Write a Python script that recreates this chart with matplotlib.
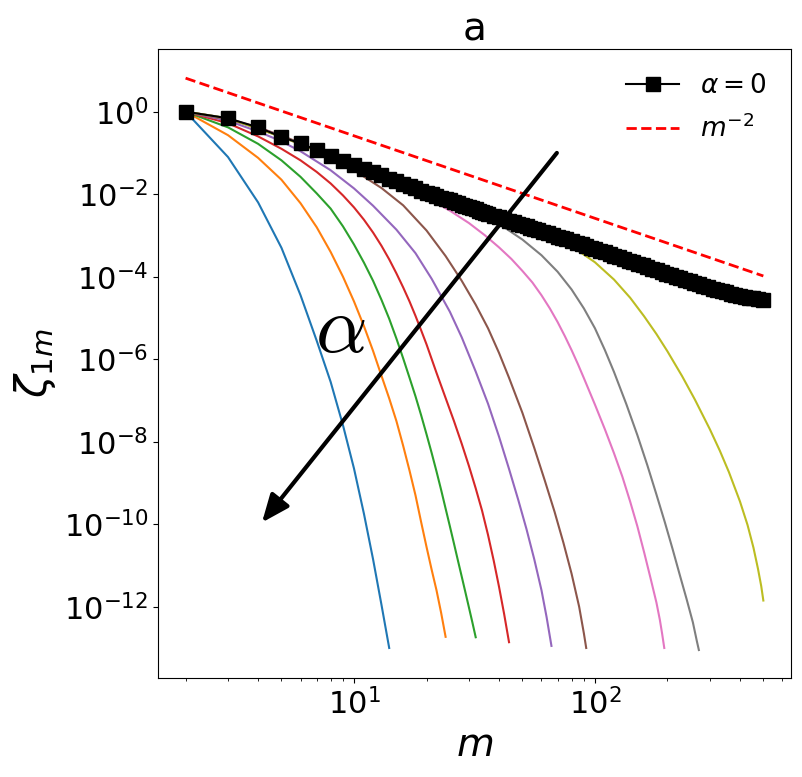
import matplotlib
matplotlib.use("Agg")
import matplotlib.pyplot as plt
import numpy as np

# curves for increasing alpha (values stored as log10 of zeta_1m)
blue_m = list(range(2, 15))
blue_log = [0, -1.10, -2.2, -3.3, -4.45, -5.55, -6.55, -7.6, -8.65, -9.75, -10.85, -11.95, -13.0]

orange_m = list(range(2, 25))
orange_log = [0, -0.57, -1.12, -1.65, -2.22, -2.8, -3.4, -4.0, -4.6, -5.2, -5.8, -6.4,
              -6.95, -7.5, -8.1, -8.7, -9.3, -9.95, -10.55, -11.1, -11.6, -12.15, -12.73]

green_m = list(range(2, 33))
green_log = [0, -0.38, -0.78, -1.18, -1.58, -1.98, -2.35, -2.78, -3.22, -3.66, -4.1, -4.56,
             -5.02, -5.5, -5.98, -6.45, -6.9, -7.36, -7.82, -8.27, -8.72, -9.17, -9.62,
             -10.05, -10.47, -10.88, -11.27, -11.65, -12.02, -12.38, -12.74]

red_m = [2, 3, 4, 5, 6, 7, 8, 9, 10, 11, 12, 13, 14, 15, 16, 17, 18, 19, 20,
         22, 24, 26, 28, 30, 32, 34, 36, 38, 40, 42, 44]
red_log = [0, -0.28, -0.6, -0.9, -1.18, -1.46, -1.74, -2.03, -2.32, -2.62, -2.93, -3.25,
           -3.58, -3.92, -4.26, -4.6, -4.95, -5.3, -5.64, -6.33, -6.94, -7.5, -8.05,
           -8.59, -9.13, -9.67, -10.26, -10.88, -11.52, -12.18, -12.86]

purple_m = [2, 3, 4, 5, 6, 8, 10, 12, 15, 18, 21, 25, 28, 32, 36, 40, 44, 48, 52, 56, 60, 63, 66]
purple_log = [0, -0.22, -0.48, -0.72, -0.96, -1.42, -1.86, -2.28, -2.86, -3.43, -4.05, -4.85,
              -5.47, -6.3, -7.08, -7.88, -8.66, -9.4, -10.12, -10.85, -11.6, -12.25, -12.95]

brown_m = [2, 3, 4, 5, 6, 8, 10, 13, 16, 20, 24, 28, 32, 36, 40, 44, 50, 56, 62, 68, 74, 80, 86, 90, 92]
brown_log = [0, -0.19, -0.38, -0.58, -0.76, -1.1, -1.42, -1.85, -2.27, -2.88, -3.5, -4.1,
             -4.68, -5.25, -5.85, -6.45, -7.3, -8.15, -8.95, -9.7, -10.45, -11.2, -12.0,
             -12.65, -13.0]

pink_m = [2, 3, 4, 6, 8, 10, 13, 16, 20, 25, 30, 35, 40, 45, 50, 55, 60, 65, 70, 75, 80,
          85, 90, 100, 110, 120, 130, 140, 150, 160, 170, 180, 186, 190, 194]
pink_log = [0, -0.17, -0.38, -0.78, -1.07, -1.3, -1.58, -1.83, -2.08, -2.40, -2.70, -3.0,
            -3.29, -3.57, -3.86, -4.14, -4.45, -4.77, -5.1, -5.44, -5.78, -6.12, -6.46,
            -7.1, -7.7, -8.28, -8.85, -9.45, -10.05, -10.68, -11.3, -11.9, -12.32, -12.65, -13.0]

gray_m = [2, 3, 5, 10, 20, 30, 40, 50, 60, 70, 80, 90, 100, 110, 120, 135, 150, 165, 180,
          195, 210, 225, 240, 255, 265, 270]
gray_log = [0, -0.16, -0.61, -1.29, -1.99, -2.36, -2.72, -3.10, -3.48, -3.88, -4.31, -4.77,
            -5.25, -5.78, -6.31, -7.09, -7.84, -8.57, -9.28, -9.95, -10.60, -11.23, -11.81,
            -12.38, -12.84, -13.05]

olive_m = [2, 3, 5, 10, 20, 40, 60, 80, 100, 120, 140, 160, 180, 200, 230, 260, 300, 330,
           360, 400, 430, 455, 475, 490, 500]
olive_log = [0, -0.16, -0.61, -1.29, -1.97, -2.57, -2.93, -3.26, -3.65, -4.07, -4.51, -4.96,
             -5.39, -5.81, -6.41, -6.98, -7.70, -8.22, -8.74, -9.45, -10.02, -10.57, -11.08,
             -11.50, -11.85]

# alpha = 0 curve (square markers)
black_m = list(range(2, 37)) + [38, 40, 42, 44, 46, 48, 50, 52, 54, 56, 58, 61, 64, 67, 70,
                                 73, 76, 80, 84, 88, 92, 96, 100, 105, 110, 115, 120, 126,
                                 132, 138, 144, 151, 158, 165, 173, 181, 189, 198, 207, 216,
                                 226, 236, 247, 258, 270, 282, 295, 308, 322, 336, 351, 367,
                                 383, 400, 418, 436, 455, 475, 500]
black_log = [0, -0.16, -0.38, -0.61, -0.77, -0.93, -1.07, -1.185, -1.29, -1.38, -1.47,
             -1.545, -1.62, -1.685, -1.75, -1.81, -1.86, -1.915, -1.965,
             -2.005, -2.044, -2.082, -2.117, -2.15, -2.186, -2.218, -2.251, -2.282, -2.313,
             -2.342, -2.37, -2.398, -2.422, -2.448, -2.472,
             -2.52, -2.564, -2.604, -2.642, -2.68, -2.714, -2.748, -2.78, -2.811, -2.841,
             -2.87, -2.912, -2.951, -2.989, -3.026, -3.06, -3.094, -3.136, -3.178, -3.218,
             -3.258, -3.294, -3.33, -3.372, -3.412, -3.452, -3.488, -3.53, -3.572, -3.61,
             -3.646, -3.688, -3.728, -3.764, -3.806, -3.846, -3.882, -3.924, -3.962, -3.998,
             -4.038, -4.076, -4.116, -4.152, -4.186, -4.22, -4.256, -4.29, -4.322, -4.349,
             -4.378, -4.408, -4.435, -4.462, -4.485, -4.507, -4.526, -4.542, -4.56]

# m^-2 guide line end points
ref_m = [2, 500]
ref_val = [6.5, 1.04e-4]

curves = [(blue_m, blue_log), (orange_m, orange_log), (green_m, green_log),
          (red_m, red_log), (purple_m, purple_log), (brown_m, brown_log),
          (pink_m, pink_log), (gray_m, gray_log), (olive_m, olive_log)]

fig = plt.figure(figsize=(8.03, 7.77), dpi=100)
ax = fig.add_axes([0.1968, 0.1274, 0.788, 0.8095])

for i, (ms, lg) in enumerate(curves):
    ax.plot(ms, np.power(10.0, lg), color="C%d" % i, lw=1.5)

ax.plot(black_m, np.power(10.0, black_log), "k-s", lw=1.5, ms=9.5, label=r"$\alpha = 0$")
ax.plot(ref_m, ref_val, "r--", lw=2, label=r"$m^{-2}$")

ax.set_xscale("log")
ax.set_yscale("log")
ax.set_xlim(1.537, 650)
ax.set_ylim(1.87e-14, 33)

ax.annotate("", xy=(4.15, 1.1e-10), xytext=(69.5, 0.1),
            arrowprops=dict(arrowstyle="-|>,head_length=0.6,head_width=0.25", lw=3,
                            color="k", mutation_scale=28, shrinkA=0, shrinkB=0))
ax.text(8.75, 5e-6, r"$\alpha$", fontsize=58, math_fontfamily="cm",
        ha="center", va="center")

ax.tick_params(labelsize=22)
ax.set_xlabel(r"$m$", fontsize=28)
ax.set_ylabel(r"$\zeta_{1m}$", fontsize=30)
ax.set_title("a", fontsize=28)
ax.legend(loc="upper right", frameon=False, fontsize=19, labelspacing=0.6)

fig.savefig("out.png", dpi=100)
